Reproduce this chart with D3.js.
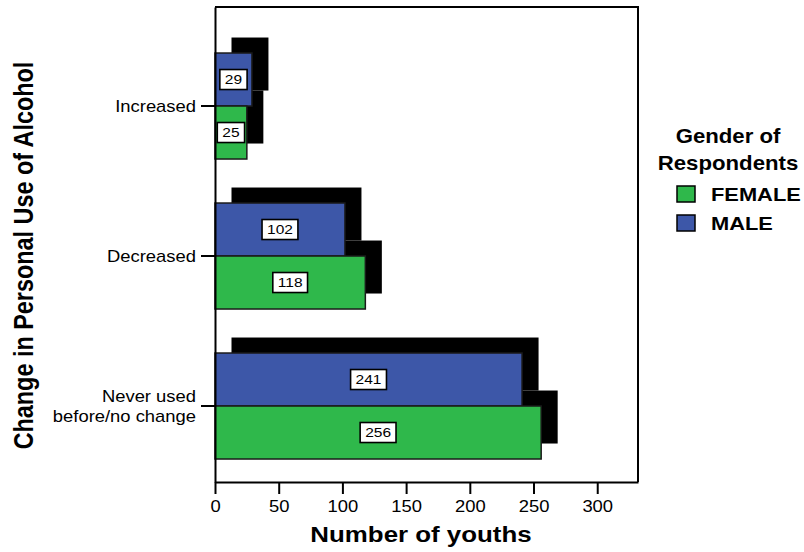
<!DOCTYPE html>
<html>
<head>
<meta charset="utf-8">
<script src="https://cdn.jsdelivr.net/npm/d3@7"></script>
<style>
  html, body { margin: 0; padding: 0; background: #fff; }
  svg { display: block; font-family: "Liberation Sans", Arial, Helvetica, sans-serif; }
</style>
</head>
<body>
<svg id="chart" width="804" height="552"></svg>
<script>
// Change in personal use of alcohol, by gender of respondent
const categories = ["Increased", "Decreased", "Never used before/no change"];
const categoryLines = [["Increased"], ["Decreased"], ["Never used", "before/no change"]];
const genders = ["MALE", "FEMALE"];           // order within each category band
const legendOrder = ["FEMALE", "MALE"];
const femaleCounts = [25, 118, 256];
const maleCounts = [29, 102, 241];
const xTicks = [0, 50, 100, 150, 200, 250, 300];

const colors = { FEMALE: "#2fb84b", MALE: "#3d57a8" };
const hStretch = 1.15;                        // wide-set type, stretched horizontally
const shadow = { dx: 16.5, dy: -15.5 };

const rows = [];
categories.forEach((c, i) => {
  rows.push({ category: c, gender: "MALE", value: maleCounts[i] });
  rows.push({ category: c, gender: "FEMALE", value: femaleCounts[i] });
});

const svg = d3.select("#chart");
const plot = { left: 215, right: 638, top: 7, bottom: 482 };

const x = d3.scaleLinear().domain([0, 332]).range([plot.left, plot.right]);
const y = d3.scaleBand().domain(categories).range([plot.top, plot.bottom])
  .paddingInner(0.2933).paddingOuter(0.23).align(0.667);
const yInner = d3.scaleBand().domain(genders).range([0, y.bandwidth()]);

// drop shadows behind every bar
svg.append("g").selectAll("rect").data(rows).join("rect")
  .attr("x", x(0) + shadow.dx)
  .attr("y", d => y(d.category) + yInner(d.gender) + shadow.dy)
  .attr("width", d => x(d.value) - x(0))
  .attr("height", yInner.bandwidth())
  .attr("fill", "#000");

// bars
svg.append("g").selectAll("rect").data(rows).join("rect")
  .attr("x", x(0))
  .attr("y", d => y(d.category) + yInner(d.gender))
  .attr("width", d => x(d.value) - x(0))
  .attr("height", yInner.bandwidth())
  .attr("fill", d => colors[d.gender])
  .attr("stroke", "#1a1a1a")
  .attr("stroke-width", 1.5);

// boxed value labels
const labels = svg.append("g").selectAll("g").data(rows).join("g")
  .attr("transform", d => `translate(${(x(0) + x(d.value)) / 2},${y(d.category) + yInner(d.gender) + yInner.bandwidth() / 2})`);
labels.append("rect").attr("class", "box")
  .attr("fill", "#fff").attr("stroke", "#000").attr("stroke-width", 1.6);
labels.append("text")
  .attr("text-anchor", "middle")
  .attr("dy", "0.36em")
  .attr("transform", `scale(${hStretch},1)`)
  .style("font-size", "13.5px")
  .text(d => d.value);
labels.each(function () {
  const g = d3.select(this);
  const w = g.select("text").node().getComputedTextLength() * hStretch + 10;
  const h = 20;
  g.select("rect.box").attr("x", -w / 2).attr("y", -h / 2).attr("width", w).attr("height", h);
});

// frame: top and right edges
svg.append("path")
  .attr("d", `M${plot.left},${plot.top}H${plot.right}V${plot.bottom}`)
  .attr("fill", "none").attr("stroke", "#000").attr("stroke-width", 2);

// x axis
const xAxis = svg.append("g")
  .attr("transform", `translate(0,${plot.bottom})`)
  .call(d3.axisBottom(x).tickValues(xTicks).tickSize(12).tickSizeOuter(0).tickPadding(7));
xAxis.select(".domain").attr("stroke-width", 2);
xAxis.selectAll(".tick line").attr("stroke-width", 2);
xAxis.selectAll(".tick text")
  .attr("fill", "#000")
  .attr("transform", `scale(${hStretch},1)`)
  .style("font-size", "16px").style("font-family", "'Liberation Sans', Arial, sans-serif");

// y axis with category names
const yAxis = svg.append("g")
  .attr("transform", `translate(${plot.left},0)`)
  .call(d3.axisLeft(y).tickSize(14).tickSizeOuter(0).tickFormat(""));
yAxis.select(".domain").attr("stroke-width", 2);
yAxis.selectAll(".tick line").attr("stroke-width", 2);
yAxis.selectAll(".tick text").remove();
yAxis.selectAll(".tick").each(function (d) {
  const lines = categoryLines[categories.indexOf(d)];
  const t = d3.select(this).append("text")
    .attr("text-anchor", "end")
    .attr("fill", "#000")
    .attr("transform", `translate(-19,0) scale(${hStretch},1)`)
    .style("font-size", "16px").style("font-family", "'Liberation Sans', Arial, sans-serif");
  lines.forEach((ln, i) => {
    t.append("tspan").attr("x", 0)
      .attr("y", (i - (lines.length - 1) / 2) * 19.5)
      .attr("dy", "0.36em")
      .text(ln);
  });
});

// axis titles
svg.append("text")
  .attr("transform", `translate(421,542) scale(${hStretch},1)`)
  .attr("text-anchor", "middle")
  .style("font-size", "22.5px").style("font-weight", "bold")
  .text("Number of youths");

svg.append("text")
  .attr("transform", `translate(33,255.5) scale(${hStretch},1) rotate(-90)`)
  .attr("text-anchor", "middle")
  .style("font-size", "23.4px").style("font-weight", "bold")
  .text("Change in Personal Use of Alcohol");

// legend
const legend = svg.append("g");
legend.append("text")
  .attr("text-anchor", "middle")
  .attr("transform", `translate(728,142.5) scale(${hStretch},1)`)
  .style("font-size", "19.3px").style("font-weight", "bold")
  .text("Gender of");
legend.append("text")
  .attr("text-anchor", "middle")
  .attr("transform", `translate(728,169.5) scale(${hStretch},1)`)
  .style("font-size", "19.3px").style("font-weight", "bold")
  .text("Respondents");
const items = legend.selectAll("g.item").data(legendOrder).join("g")
  .attr("class", "item")
  .attr("transform", (d, i) => `translate(677,${186 + i * 29})`);
items.append("rect")
  .attr("width", 18).attr("height", 16)
  .attr("fill", d => colors[d])
  .attr("stroke", "#000").attr("stroke-width", 1.5);
items.append("text")
  .attr("transform", `translate(34,15) scale(${hStretch},1)`)
  .style("font-size", "19px").style("font-weight", "bold")
  .text(d => d);
</script>
</body>
</html>
